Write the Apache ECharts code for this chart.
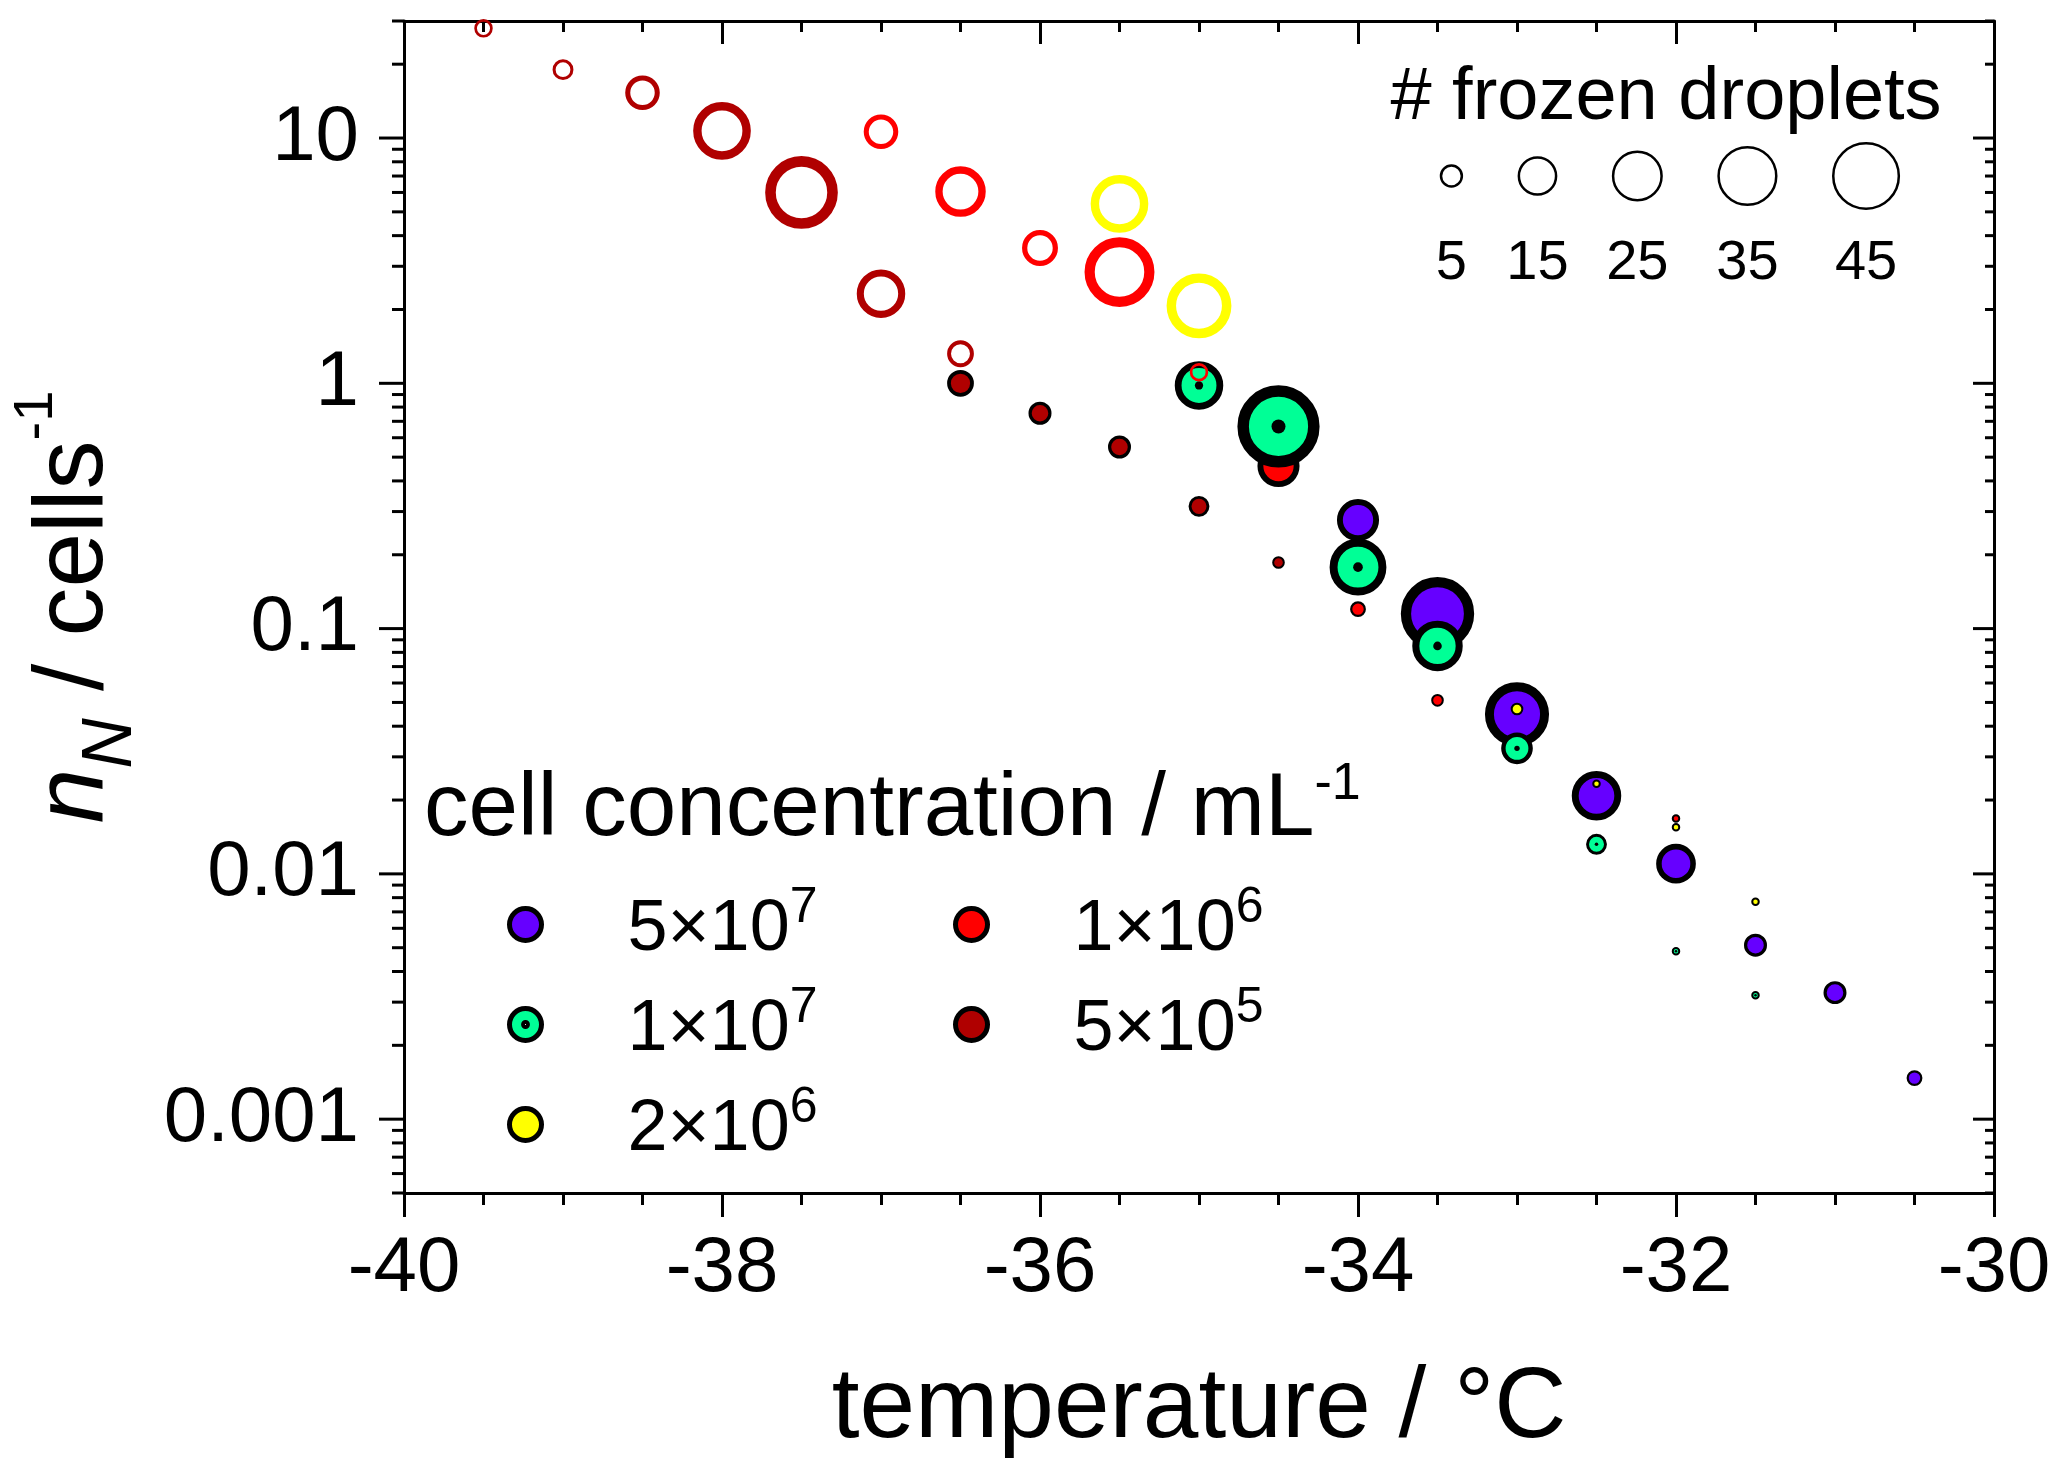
<!DOCTYPE html>
<html>
<head>
<meta charset="utf-8">
<script src="https://cdn.jsdelivr.net/npm/echarts@6/dist/echarts.min.js"></script>
<style>
html, body { margin: 0; padding: 0; background: #fff; }
#chart { width: 2067px; height: 1481px; }
</style>
</head>
<body>
<div id="chart"></div>
<script>
// temperature (°C), n_N (cells^-1), # frozen droplets -- filled markers
var t5e7 = [-34, -33.5, -33, -32.5, -32, -31.5, -31, -30.5];
var nN5e7 = [0.277, 0.115, 0.0447, 0.0208, 0.0110, 0.00512, 0.00328, 0.00147];
var drop5e7 = [19, 56, 43, 26, 17, 6, 6, 3];

var t1e7 = [-35, -34.5, -34, -33.5, -33, -32.5, -32, -31.5];
var nN1e7 = [0.98, 0.667, 0.178, 0.085, 0.0325, 0.0132, 0.00484, 0.0032];
var drop1e7 = [25, 70, 34, 27, 11, 5, 1, 1];

var t2e6 = [-33, -32.5, -32, -31.5];
var nN2e6 = [0.047, 0.0233, 0.0155, 0.0077];
var drop2e6 = [2, 1, 1, 1];

var t1e6 = [-34.5, -34, -33.5, -32];
var nN1e6 = [0.46, 0.12, 0.051, 0.0168];
var drop1e6 = [19, 3, 2, 1];

var t5e5 = [-36.5, -36, -35.5, -35, -34.5];
var nN5e5 = [1.0, 0.755, 0.55, 0.315, 0.186];
var drop5e5 = [8, 6, 6, 5, 2];

// open markers
var t2e6o = [-35.5, -35];
var nN2e6o = [5.39, 2.07];
var drop2e6o = [35, 44];

var t1e6o = [-37, -36.5, -36, -35.5, -35];
var nN1e6o = [10.6, 6.05, 3.56, 2.84, 1.11];
var drop1e6o = [13, 27, 14, 51, 4];

var t5e5o = [-39.5, -39, -38.5, -38, -37.5, -37, -36.5];
var nN5e5o = [28, 19, 15.3, 10.7, 6.0, 2.32, 1.32];
var drop5e5o = [4, 5, 13, 35, 55, 25, 8];

var sizeLegendN = [5, 15, 25, 35, 45];
var yTickValues = [0.001, 0.01, 0.1, 1, 10];
var yTickLabels = ['0.001', '0.01', '0.1', '1', '10'];

var FONT = '"Liberation Sans", Arial, Helvetica, sans-serif';
var X_MIN = -40, X_MAX = -30, Y_MIN = 0.0005, Y_MAX = 30;

// outer diameter in px for a number of frozen droplets
function sizeOf(n) {
    return 10 * Math.sqrt(n) - 1.5;
}

function filledSeries(name, color, T, V, N) {
    return {
        name: name, type: 'scatter', symbol: 'circle',
        itemStyle: { color: color, borderColor: '#000', borderWidth: 4, opacity: 1 },
        data: T.map(function (t, i) {
            var d = sizeOf(N[i]), b = Math.max(2, 0.14 * d);
            return { value: [t, V[i], N[i]], symbolSize: d - b, itemStyle: { borderWidth: b } };
        })
    };
}

function openSeries(name, color, T, V, N) {
    return {
        name: name, type: 'scatter', symbol: 'circle',
        itemStyle: { color: 'rgba(0,0,0,0)', borderColor: color, borderWidth: 3, opacity: 1 },
        data: T.map(function (t, i) {
            var d = sizeOf(N[i]), b = Math.max(2, 0.146 * d);
            return { value: [t, V[i], N[i]], symbolSize: d - b, itemStyle: { borderWidth: b } };
        })
    };
}

// black centre dot of the 1x10^7 markers
var dotSeries = {
    name: '1e7dot', type: 'scatter', symbol: 'circle',
    itemStyle: { color: '#000', opacity: 1 },
    data: t1e7.map(function (t, i) {
        return { value: [t, nN1e7[i], drop1e7[i]], symbolSize: Math.max(2.5, 0.17 * sizeOf(drop1e7[i])) };
    })
};

// y ticks (log minor ticks at 2..9 x decade)
var yTickData = [];
for (var k = -4; k <= 1; k++) {
    for (var m = 1; m <= 9; m++) {
        var v = m * Math.pow(10, k);
        v = parseFloat(v.toPrecision(6));
        if (v >= Y_MIN - 1e-12 && v <= Y_MAX + 1e-9) yTickData.push([X_MIN, v, m === 1 ? 1 : 0]);
    }
}

var tickSeries = {
    name: 'yticks', type: 'custom', coordinateSystem: 'cartesian2d',
    silent: true, clip: false, z: 10,
    encode: { x: 0, y: 1 },
    data: yTickData,
    renderItem: function (params, api) {
        var v = api.value(1), major = api.value(2);
        var pL = api.coord([X_MIN, v]), pR = api.coord([X_MAX, v]);
        var outLen = major ? 25 : 12, inLen = major ? 21 : 9;
        return {
            type: 'group',
            children: [
                { type: 'line', shape: { x1: pL[0] - outLen, y1: pL[1], x2: pL[0], y2: pL[1] }, style: { stroke: '#000', lineWidth: 3 } },
                { type: 'line', shape: { x1: pR[0] - inLen, y1: pR[1], x2: pR[0], y2: pR[1] }, style: { stroke: '#000', lineWidth: 3 } }
            ]
        };
    }
};

var concLabels = {
    '5e7': '{m|5×10}{sup|7}',
    '1e7': '{m|1×10}{sup|7}',
    '2e6': '{m|2×10}{sup|6}',
    '1e6': '{m|1×10}{sup|6}',
    '5e5': '{m|5×10}{sup|5}'
};

var legendText = {
    color: '#000', fontFamily: FONT,
    rich: {
        m: { fontSize: 72, fontFamily: FONT, color: '#000', verticalAlign: 'bottom', padding: [0, 0, 0, 81] },
        sup: { fontSize: 50, fontFamily: FONT, color: '#000', verticalAlign: 'bottom', padding: [0, 0, 33, 0] }
    }
};

function legendBlock(names, left) {
    return {
        data: names.map(function (n) {
            if (n === '1e7') {
                return { name: n, icon: 'path://M10,0A10,10,0,1,1,-10,0A10,10,0,1,1,10,0ZM1.2,0A1.2,1.2,0,1,0,-1.2,0A1.2,1.2,0,1,0,1.2,0Z' };
            }
            return { name: n, icon: 'circle' };
        }),
        orient: 'vertical', left: left, top: 883, padding: 0,
        itemWidth: 32, itemHeight: 32, itemGap: 17,
        selectedMode: false, symbolKeepAspect: true,
        itemStyle: { borderColor: '#000', borderWidth: 5 },
        textStyle: legendText,
        formatter: function (name) { return concLabels[name]; }
    };
}

var graphics = [];
var edge = 1441;
sizeLegendN.forEach(function (n) {
    var d = sizeOf(n);
    var cx = edge + d / 2;
    graphics.push({ type: 'circle', shape: { cx: cx, cy: 176, r: d / 2 }, style: { fill: 'none', stroke: '#000', lineWidth: 2.5 } });
    graphics.push({ type: 'text', x: cx, y: 264, style: { text: String(n), fontSize: 56, fontFamily: FONT, fill: '#000', align: 'center', verticalAlign: 'middle' } });
    edge += d + 57;
});
graphics.push({ type: 'text', x: 1666, y: 99, style: { text: '# frozen droplets', fontSize: 74, fontFamily: FONT, fill: '#000', align: 'center', verticalAlign: 'middle' } });
graphics.push({
    type: 'text', x: 424, y: 855,
    style: {
        text: '{m|cell concentration / mL}{sup|-1}', align: 'left', verticalAlign: 'bottom',
        rich: {
            m: { fontSize: 89, fontFamily: FONT, fill: '#000', verticalAlign: 'bottom' },
            sup: { fontSize: 52, fontFamily: FONT, fill: '#000', verticalAlign: 'bottom', padding: [0, 0, 44, 0] }
        }
    }
});

var chart = echarts.init(document.getElementById('chart'));
var option = {
    backgroundColor: '#fff',
    animation: false,
    grid: { left: 404, right: 73, top: 21, bottom: 288, containLabel: false, outerBoundsMode: 'none' },
    xAxis: [
        {
            type: 'value', position: 'bottom', min: X_MIN, max: X_MAX, interval: 2,
            name: 'temperature / °C', nameLocation: 'middle', nameGap: 166, nameMoveOverlap: false,
            nameTextStyle: { fontSize: 100, fontFamily: FONT, color: '#000' },
            axisLine: { show: true, onZero: false, lineStyle: { color: '#000', width: 3 } },
            axisTick: { show: true, inside: false, length: 24, lineStyle: { color: '#000', width: 3 } },
            minorTick: { show: true, splitNumber: 4, length: 12, lineStyle: { color: '#000', width: 3 } },
            axisLabel: { margin: 37, fontSize: 78, fontFamily: FONT, color: '#000' },
            splitLine: { show: false }
        },
        {
            type: 'value', position: 'top', min: X_MIN, max: X_MAX, interval: 2,
            axisLine: { show: true, onZero: false, lineStyle: { color: '#000', width: 3 } },
            axisTick: { show: true, inside: true, length: 23, lineStyle: { color: '#000', width: 3 } },
            minorTick: { show: true, splitNumber: 4, length: 11, lineStyle: { color: '#000', width: 3 } },
            axisLabel: { show: false },
            splitLine: { show: false }
        }
    ],
    yAxis: [
        {
            type: 'log', logBase: 10, position: 'left', min: Y_MIN, max: Y_MAX,
            name: '{i|n}{isub|N}{m| / cells}{sup|-1}', nameLocation: 'middle', nameGap: 257, nameRotate: 90, nameMoveOverlap: false,
            nameTextStyle: {
                color: '#000', fontFamily: FONT,
                rich: {
                    i: { fontSize: 98, fontStyle: 'italic', fontFamily: FONT, color: '#000', verticalAlign: 'bottom', padding: [0, 0, 23, 0] },
                    isub: { fontSize: 70, fontStyle: 'italic', fontFamily: FONT, color: '#000', verticalAlign: 'bottom', padding: [0, 0, 0, 0] },
                    m: { fontSize: 98, fontFamily: FONT, color: '#000', verticalAlign: 'bottom', padding: [0, 0, 23, 0] },
                    sup: { fontSize: 56, fontFamily: FONT, color: '#000', verticalAlign: 'bottom', padding: [0, 0, 82, 0] }
                }
            },
            axisLine: { show: true, onZero: false, lineStyle: { color: '#000', width: 3 } },
            axisTick: { show: false },
            minorTick: { show: false },
            axisLabel: {
                margin: 45, fontSize: 78, fontFamily: FONT, color: '#000',
                formatter: function (val) {
                    for (var i = 0; i < yTickValues.length; i++) {
                        if (Math.abs(Math.log10(val) - Math.log10(yTickValues[i])) < 1e-6) return yTickLabels[i];
                    }
                    return '';
                }
            },
            splitLine: { show: false }
        },
        {
            type: 'log', logBase: 10, position: 'right', min: Y_MIN, max: Y_MAX,
            axisLine: { show: true, onZero: false, lineStyle: { color: '#000', width: 3 } },
            axisTick: { show: false },
            minorTick: { show: false },
            axisLabel: { show: false },
            splitLine: { show: false }
        }
    ],
    legend: [
        legendBlock(['5e7', '1e7', '2e6'], 507),
        legendBlock(['1e6', '5e5'], 953)
    ],
    graphic: graphics,
    series: [
        filledSeries('5e5', '#b00000', t5e5, nN5e5, drop5e5),
        filledSeries('1e6', '#ff0000', t1e6, nN1e6, drop1e6),
        filledSeries('5e7', '#6600ff', t5e7, nN5e7, drop5e7),
        filledSeries('1e7', '#00ff96', t1e7, nN1e7, drop1e7),
        dotSeries,
        filledSeries('2e6', '#ffff00', t2e6, nN2e6, drop2e6),
        openSeries('5e5 open', '#b00000', t5e5o, nN5e5o, drop5e5o),
        openSeries('1e6 open', '#ff0000', t1e6o, nN1e6o, drop1e6o),
        openSeries('2e6 open', '#ffff00', t2e6o, nN2e6o, drop2e6o),
        tickSeries
    ]
};
chart.setOption(option);
window.onresize = chart.resize;
</script>
</body>
</html>
